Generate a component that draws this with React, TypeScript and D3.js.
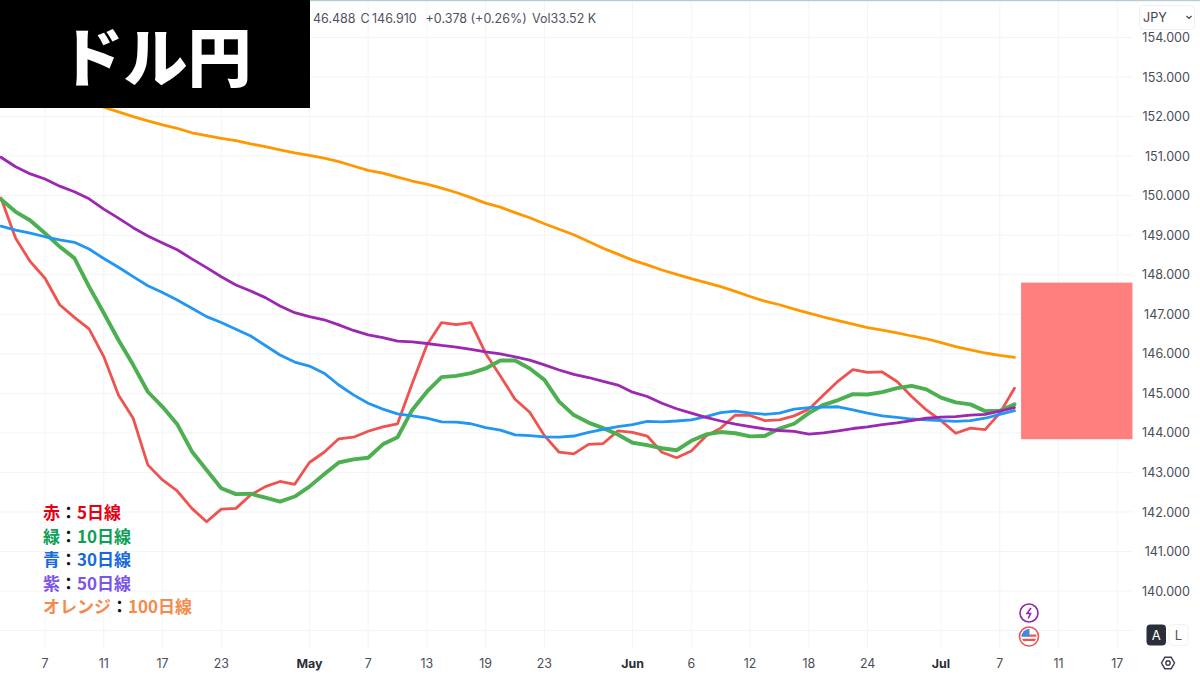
import React from "react";
import * as d3 from "d3";

const WIDTH = 1200;
const HEIGHT = 675;

// Simple moving averages, USD/JPY, one value per trading bar (2 Apr - 8 Jul)
const ma5 = [149.94,148.92,148.33,147.91,147.24,146.92,146.63,145.93,144.96,144.37,143.19,142.81,142.53,142.09,141.75,142.07,142.09,142.43,142.64,142.77,142.70,143.25,143.51,143.85,143.89,144.04,144.15,144.23,145.25,146.22,146.79,146.74,146.79,146.01,145.44,144.85,144.52,143.93,143.51,143.47,143.71,143.73,144.05,144.01,143.92,143.51,143.37,143.54,143.92,144.12,144.45,144.44,144.31,144.33,144.43,144.60,144.96,145.31,145.60,145.53,145.54,145.30,144.92,144.58,144.31,143.99,144.12,144.08,144.50,145.13];
const ma10 = [149.91,149.59,149.37,149.05,148.71,148.42,147.70,147.03,146.35,145.72,145.04,144.66,144.22,143.53,143.06,142.60,142.45,142.46,142.36,142.26,142.39,142.64,142.95,143.25,143.33,143.37,143.71,143.89,144.58,145.04,145.41,145.44,145.51,145.63,145.83,145.83,145.63,145.34,144.79,144.45,144.26,144.12,143.96,143.75,143.69,143.61,143.56,143.80,143.96,144.02,143.99,143.91,143.92,144.11,144.23,144.50,144.71,144.83,144.98,144.97,145.03,145.13,145.19,145.10,144.89,144.77,144.72,144.55,144.56,144.72];
const ma30 = [149.23,149.13,149.05,148.96,148.88,148.82,148.65,148.41,148.19,147.95,147.72,147.55,147.36,147.15,146.94,146.79,146.62,146.45,146.21,145.97,145.79,145.69,145.51,145.21,144.96,144.75,144.60,144.48,144.43,144.37,144.28,144.27,144.23,144.13,144.07,143.95,143.93,143.90,143.89,143.92,144.01,144.09,144.16,144.21,144.29,144.28,144.30,144.33,144.41,144.51,144.55,144.50,144.47,144.50,144.60,144.64,144.65,144.66,144.58,144.50,144.43,144.39,144.35,144.33,144.31,144.29,144.31,144.37,144.47,144.56];
const ma50 = [150.97,150.73,150.55,150.42,150.24,150.10,149.92,149.66,149.43,149.19,148.98,148.80,148.63,148.40,148.18,147.95,147.74,147.59,147.42,147.21,147.04,146.94,146.86,146.73,146.59,146.48,146.41,146.32,146.30,146.26,146.21,146.17,146.11,146.05,146.00,145.92,145.84,145.72,145.59,145.48,145.40,145.30,145.21,145.03,144.92,144.75,144.61,144.50,144.39,144.30,144.22,144.16,144.10,144.06,144.04,143.97,144.00,144.05,144.11,144.15,144.21,144.25,144.31,144.37,144.40,144.41,144.45,144.47,144.55,144.64];
const ma100 = [null,null,null,null,null,null,152.35,152.24,152.12,152.00,151.89,151.79,151.70,151.59,151.52,151.45,151.39,151.31,151.24,151.16,151.08,151.02,150.95,150.86,150.75,150.64,150.57,150.47,150.37,150.29,150.19,150.08,149.95,149.81,149.71,149.57,149.44,149.29,149.15,149.01,148.84,148.67,148.52,148.37,148.25,148.12,148.01,147.90,147.80,147.70,147.58,147.45,147.33,147.24,147.13,147.03,146.93,146.84,146.75,146.66,146.60,146.53,146.45,146.38,146.28,146.18,146.10,146.02,145.96,145.91];

const priceTicks = [154,153,152,151,150,149,148,147,146,145,144,143,142,141,140];
const extraGridPrice = 139;
const dateTickLabels = ["7","11","17","23","May","7","13","19","23","Jun","6","12","18","24","Jul","7","11","17"];
const dateTickBars = [3,7,11,15,21,25,29,33,37,43,47,51,55,59,64,68,72,76];
const boldDateTicks = ["May","Jun","Jul"];

const zoneTop = 147.8;
const zoneBottom = 143.84;
const zoneBars = [69.45,77.03];

const title = "ドル円";
const headerParts = ["46.488","C","146.910","+0.378 (+0.26%)","Vol33.52 K"];
const headerX = [313,360.5,372,425.6,532];
const unit = "JPY";

const legendNames = ["赤","緑","青","紫","オレンジ"];
const legendPeriods = ["5日線","10日線","30日線","50日線","100日線"];
const legendColors = ["#e60012","#0e9f57","#1769e0","#7c55e8","#f58a4b"];

const x = d3.scaleLinear().domain([3, 76]).range([45, 1117.3]);
const y = d3.scaleLinear().domain([154, 140]).range([37.5, 591]);

const seriesOrder = [
  { values: ma100, color: "#ff9800", width: 2.8 },
  { values: ma5, color: "#ef5350", width: 2.8 },
  { values: ma10, color: "#4caf50", width: 3.9 },
  { values: ma30, color: "#2196f3", width: 2.8 },
  { values: ma50, color: "#9c27b0", width: 2.8 },
];

const lineGen = d3
  .line<number | null>()
  .defined((d) => d !== null)
  .x((_, i) => x(i))
  .y((d) => y(d as number));

const UI = "Inter, 'Liberation Sans', sans-serif";
const CJK = "'Noto Sans CJK JP', sans-serif";

export default function App() {
  return (
    <svg
      width={WIDTH}
      height={HEIGHT}
      viewBox={`0 0 ${WIDTH} ${HEIGHT}`}
      style={{ position: "absolute", left: 0, top: 0, background: "#fff" }}
    >
      <rect x={0} y={0} width={WIDTH} height={1.2} fill="#b4ccd6" />
      {/* grid */}
      {[...priceTicks, extraGridPrice].map((p) => (
        <line key={p} x1={0} x2={1133} y1={y(p)} y2={y(p)} stroke="#f3f4f6" strokeWidth={1} />
      ))}
      {dateTickBars.map((b) => (
        <line key={b} x1={x(b)} x2={x(b)} y1={2} y2={648} stroke="#f3f4f6" strokeWidth={1} />
      ))}

      {/* moving averages */}
      {seriesOrder.map((s, i) => (
        <path
          key={i}
          d={lineGen(s.values) ?? ""}
          fill="none"
          stroke={s.color}
          strokeWidth={s.width}
          strokeLinejoin="round"
          strokeLinecap="round"
        />
      ))}

      {/* target zone */}
      <rect
        x={x(zoneBars[0])}
        width={x(zoneBars[1]) - x(zoneBars[0])}
        y={y(zoneTop)}
        height={y(zoneBottom) - y(zoneTop)}
        fill="#ff7f7f"
      />

      {/* header */}
      {headerParts.map((part, i) => (
        <text key={part} x={headerX[i]} y={23} fontFamily={UI} fontSize={12.5} fill="#50535e">
          {part}
        </text>
      ))}

      {/* title block */}
      <rect x={0} y={0} width={310} height={108} fill="#000" />
      <text
        x={155.5}
        y={81}
        textAnchor="middle"
        fontFamily={CJK}
        fontWeight={900}
        fontSize={64}
        fill="#fff"
      >
        {title}
      </text>

      {/* price axis */}
      {priceTicks.map((p) => (
        <text
          key={p}
          x={1190}
          y={y(p) + 4.6}
          textAnchor="end"
          fontFamily={UI}
          fontSize={12.6}
          fill="#4a4d57"
        >
          {p.toFixed(3)}
        </text>
      ))}

      {/* date axis */}
      {dateTickBars.map((b, i) => {
        const label = dateTickLabels[i];
        const bold = boldDateTicks.includes(label);
        return (
          <text
            key={b}
            x={x(b)}
            y={667.5}
            textAnchor="middle"
            fontFamily={UI}
            fontSize={12.4}
            fontWeight={bold ? 700 : 400}
            fill={bold ? "#2a2d36" : "#4a4d57"}
          >
            {label}
          </text>
        );
      })}

      {/* legend */}
      {legendNames.map((name, i) => (
        <text key={name} x={43} y={519 + i * 23.6} fontFamily={CJK} fontWeight={700} fontSize={17}>
          <tspan fill={legendColors[i]}>{name}</tspan>
          <tspan fill="#111">：</tspan>
          <tspan fill={legendColors[i]}>{legendPeriods[i]}</tspan>
        </text>
      ))}

      {/* currency selector */}
      <rect x={1139.5} y={5.5} width={55} height={24} rx={4} fill="#fff" stroke="#eef0f3" />
      <text x={1143} y={22} fontFamily={UI} fontSize={12.6} fill="#3f424c">
        {unit}
      </text>
      <path d="M1186.5 16l2.5 2.5 2.5-2.5" fill="none" stroke="#3f424c" strokeWidth={1.2} />

      {/* event icons */}
      <circle cx={1029} cy={613} r={9} fill="#fff" stroke="#8e24aa" strokeWidth={1.6} />
      <path d="M1031 608l-4 5.5h3.6l-2.4 4.8" fill="none" stroke="#8e24aa" strokeWidth={1.5} />
      <circle cx={1029} cy={636.5} r={9.5} fill="#fff" stroke="#ef5350" strokeWidth={1.6} />
      <clipPath id="flag">
        <circle cx={1029} cy={636.5} r={7.4} />
      </clipPath>
      <g clipPath="url(#flag)">
        <rect x={1021} y={629} width={16} height={15} fill="#fff" />
        <rect x={1021} y={634.5} width={16} height={2.2} fill="#ef5350" />
        <rect x={1021} y={638.8} width={16} height={2.2} fill="#ef5350" />
        <rect x={1021} y={629} width={8.5} height={7.5} fill="#3b8de0" />
      </g>

      {/* scale buttons */}
      <rect x={1146.5} y={624.5} width={19.5} height={21} rx={4} fill="#2a2e39" />
      <text x={1156.2} y={640} textAnchor="middle" fontFamily={UI} fontSize={13} fill="#fff">
        A
      </text>
      <rect x={1169} y={624.5} width={19} height={21} rx={4} fill="#fff" stroke="#f0f1f3" />
      <text x={1178.5} y={640} textAnchor="middle" fontFamily={UI} fontSize={13} fill="#555">
        L
      </text>

      {/* settings */}
      <path
        d="M1161.5 663l3.3-5.7h6.4l3.3 5.7-3.3 5.7h-6.4z"
        fill="none"
        stroke="#3f424c"
        strokeWidth={1.4}
      />
      <circle cx={1168} cy={663} r={2.2} fill="none" stroke="#3f424c" strokeWidth={1.4} />
    </svg>
  );
}
